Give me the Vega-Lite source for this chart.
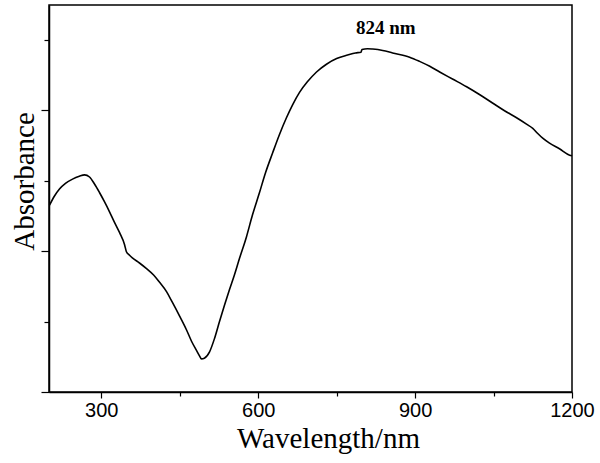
{
  "$schema": "https://vega.github.io/schema/vega-lite/v6.json",
  "autosize": {"type": "none"},
  "width": 523,
  "height": 387,
  "padding": {"left": 49, "top": 5, "right": 28, "bottom": 71},
  "background": "white",
  "config": {"view": {"stroke": "black", "strokeWidth": 1.5}},
  "datasets": {
    "spec": [
      {"wl": 201, "a": 2.65}, {"wl": 210.5, "a": 2.78}, {"wl": 220, "a": 2.88}, {"wl": 231.5, "a": 2.96},
      {"wl": 245, "a": 3.02}, {"wl": 258, "a": 3.06}, {"wl": 268, "a": 3.08}, {"wl": 277.5, "a": 3.05},
      {"wl": 287, "a": 2.95}, {"wl": 296.5, "a": 2.83}, {"wl": 306, "a": 2.70}, {"wl": 315.5, "a": 2.56},
      {"wl": 325, "a": 2.41}, {"wl": 335, "a": 2.26}, {"wl": 344.5, "a": 2.09}, {"wl": 348, "a": 1.99},
      {"wl": 354, "a": 1.94}, {"wl": 360, "a": 1.90}, {"wl": 373, "a": 1.83}, {"wl": 386.5, "a": 1.75},
      {"wl": 400, "a": 1.66}, {"wl": 411, "a": 1.56}, {"wl": 425, "a": 1.42}, {"wl": 436, "a": 1.27},
      {"wl": 449.5, "a": 1.08}, {"wl": 463, "a": 0.88}, {"wl": 472.5, "a": 0.72}, {"wl": 482, "a": 0.59},
      {"wl": 488, "a": 0.51}, {"wl": 491.5, "a": 0.47}, {"wl": 497, "a": 0.48}, {"wl": 507, "a": 0.57},
      {"wl": 516.5, "a": 0.76}, {"wl": 526, "a": 1.00}, {"wl": 535.5, "a": 1.23}, {"wl": 545, "a": 1.45},
      {"wl": 554.5, "a": 1.66}, {"wl": 564, "a": 1.89}, {"wl": 577.5, "a": 2.20}, {"wl": 589, "a": 2.51},
      {"wl": 602.5, "a": 2.83}, {"wl": 614, "a": 3.11}, {"wl": 627.5, "a": 3.39}, {"wl": 640.5, "a": 3.65},
      {"wl": 654, "a": 3.89}, {"wl": 665.5, "a": 4.07}, {"wl": 679, "a": 4.25}, {"wl": 694, "a": 4.40},
      {"wl": 711.5, "a": 4.54}, {"wl": 730.5, "a": 4.65}, {"wl": 750, "a": 4.73}, {"wl": 771, "a": 4.78},
      {"wl": 786, "a": 4.81}, {"wl": 796.5, "a": 4.82}, {"wl": 798.5, "a": 4.86}, {"wl": 809, "a": 4.87},
      {"wl": 819, "a": 4.865}, {"wl": 838, "a": 4.845}, {"wl": 857, "a": 4.81}, {"wl": 889.5, "a": 4.75},
      {"wl": 908.5, "a": 4.69}, {"wl": 928, "a": 4.62}, {"wl": 947, "a": 4.54}, {"wl": 971.5, "a": 4.44},
      {"wl": 998.5, "a": 4.33}, {"wl": 1023, "a": 4.22}, {"wl": 1048, "a": 4.10}, {"wl": 1071, "a": 3.99},
      {"wl": 1094, "a": 3.89}, {"wl": 1113, "a": 3.80}, {"wl": 1125, "a": 3.74}, {"wl": 1134, "a": 3.67},
      {"wl": 1144, "a": 3.60}, {"wl": 1157, "a": 3.53}, {"wl": 1176, "a": 3.45}, {"wl": 1195.5, "a": 3.36},
      {"wl": 1200, "a": 3.35}
    ],
    "note": [{"wl": 844, "a": 5.16, "label": "824 nm"}]
  },
  "layer": [
    {
      "data": {"name": "spec"},
      "mark": {"type": "line", "color": "black", "strokeWidth": 1.6, "interpolate": "monotone"},
      "encoding": {
        "x": {
          "field": "wl", "type": "quantitative",
          "scale": {"domain": [200, 1200], "nice": false, "zero": false},
          "axis": {
            "title": "Wavelength/nm",
            "values": [300, 450, 600, 750, 900, 1050, 1200],
            "format": "d",
            "labelExpr": "datum.value % 300 === 0 ? datum.label : ''",
            "grid": false,
            "domainColor": "black", "domainWidth": 1.5,
            "tickColor": "black", "tickWidth": 1.2,
            "tickSize": {"condition": {"test": "datum.value % 300 === 0", "value": 6}, "value": 4},
            "labelFont": "Liberation Sans", "labelFontSize": 20, "labelColor": "black",
            "labelPadding": 2, "labelBaseline": "top", "labelOverlap": false, "labelFlush": false,
            "titleFont": "Liberation Serif", "titleFontSize": 29, "titleFontWeight": "normal", "titleColor": "black",
            "titleX": 279, "titleY": 55, "titleBaseline": "alphabetic", "titleAlign": "center"
          }
        },
        "y": {
          "field": "a", "type": "quantitative",
          "scale": {"domain": [0, 5.49], "nice": false, "zero": false},
          "axis": {
            "title": "Absorbance",
            "values": [0, 1, 2, 3, 4, 5],
            "labels": false,
            "grid": false,
            "domainColor": "black", "domainWidth": 1.5,
            "tickColor": "black", "tickWidth": 1.2,
            "tickSize": {"condition": {"test": "datum.value % 2 === 0", "value": 8}, "value": 5},
            "titleFont": "Liberation Serif", "titleFontSize": 29, "titleFontWeight": "normal", "titleColor": "black",
            "titleAngle": -90, "titleX": -16, "titleY": 176, "titleBaseline": "alphabetic", "titleAlign": "center"
          }
        }
      }
    },
    {
      "data": {"name": "note"},
      "mark": {"type": "text", "font": "Liberation Serif", "fontWeight": "bold", "fontSize": 19, "color": "black", "baseline": "middle", "align": "center"},
      "encoding": {
        "x": {"field": "wl", "type": "quantitative"},
        "y": {"field": "a", "type": "quantitative"},
        "text": {"field": "label"}
      }
    }
  ]
}
